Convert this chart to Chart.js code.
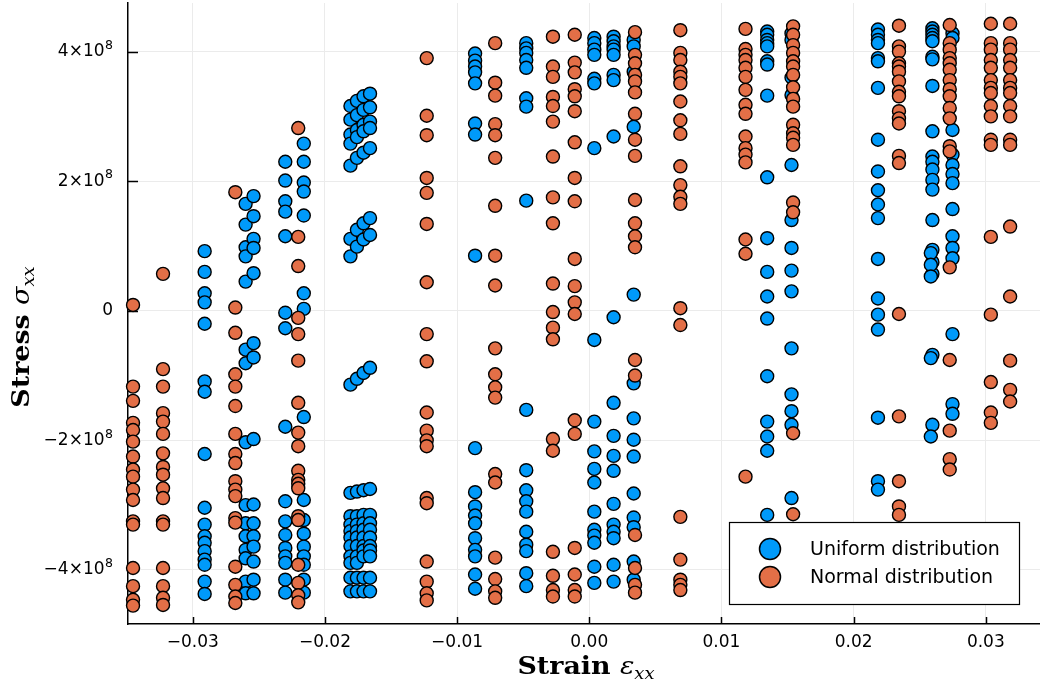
<!DOCTYPE html>
<html>
<head>
<meta charset="utf-8">
<script src="https://cdn.jsdelivr.net/npm/chart.js@4.4.0/dist/chart.umd.min.js"></script>
<style>
  html, body { margin: 0; padding: 0; background: #fff; }
  #wrap { width: 1040px; height: 689px; position: relative; }
</style>
</head>
<body>
<div id="wrap"><canvas id="chart"></canvas></div>
<script>
// ── Data (stress values in units of 1e8) ───────────────────

const STRESS_UNIT = 1e8;

const X_TICKS = [-0.03, -0.02, -0.01, 0, 0.01, 0.02, 0.03];
const Y_TICKS = [-4e8, -2e8, 0, 2e8, 4e8];

const SERIES_LABELS = ['Uniform distribution', 'Normal distribution'];

// Uniform distribution: one strain value per column, list of stresses per column
const uniformStrain = [
  -0.0291, -0.0260, -0.0254, -0.0230, -0.0216,
  -0.01807, -0.01758, -0.01708, -0.01659,
  -0.00864, -0.00477, 0.00038, 0.00184, 0.00336,
  0.01346, 0.0153, 0.02184, 0.02596, 0.02584, 0.02748,
];
const uniformStress = [
  [0.92, 0.60, 0.27, 0.13, -0.20, -1.09, -1.25, -2.21, -3.04, -3.30, -3.48, -3.58, -3.71, -3.84, -3.92, -4.18, -4.37],
  [1.65, 1.33, 0.98, 0.84, 0.45, -0.60, -0.81, -2.03, -3.00, -3.28, -3.48, -3.69, -3.82, -4.18, -4.36],
  [1.77, 1.46, 1.11, 0.97, 0.58, -0.50, -0.72, -1.98, -2.99, -3.28, -3.48, -3.64, -3.87, -4.15, -4.36],
  [2.30, 2.01, 1.69, 1.53, 1.15, -0.03, -0.27, -1.79, -2.94, -3.25, -3.46, -3.66, -3.79, -3.89, -4.15, -4.35],
  [2.58, 2.30, 1.98, 1.84, 1.47, 0.27, 0.03, -1.64, -2.92, -3.23, -3.44, -3.64, -3.79, -3.92, -4.15, -4.35],
  [3.16, 2.95, 2.72, 2.58, 2.24, 1.11, 0.84, -1.14, -2.81, -3.17, -3.30, -3.40, -3.50, -3.63, -3.79, -3.89, -4.12, -4.33],
  [3.24, 3.02, 2.79, 2.68, 2.36, 1.25, 0.99, -1.05, -2.79, -3.17, -3.30, -3.40, -3.50, -3.63, -3.79, -3.89, -4.12, -4.33],
  [3.31, 3.10, 2.87, 2.77, 2.44, 1.35, 1.10, -0.96, -2.77, -3.15, -3.28, -3.38, -3.50, -3.63, -3.70, -3.79, -4.12, -4.33],
  [3.35, 3.14, 2.92, 2.82, 2.51, 1.43, 1.17, -0.88, -2.75, -3.15, -3.28, -3.38, -3.50, -3.63, -3.70, -3.79, -4.12, -4.33],
  [3.97, 3.86, 3.77, 3.68, 3.51, 2.89, 2.72, 0.85, -2.12, -2.80, -3.02, -3.16, -3.28, -3.51, -3.69, -3.79, -4.07, -4.29],
  [4.13, 4.05, 3.98, 3.87, 3.75, 3.28, 3.15, 1.70, -1.53, -2.46, -2.77, -2.94, -3.10, -3.41, -3.61, -3.71, -4.05, -4.25],
  [4.21, 4.13, 4.03, 3.95, 3.58, 3.51, 2.51, -0.45, -1.71, -2.17, -2.44, -2.65, -3.10, -3.38, -3.47, -3.58, -3.95, -4.20],
  [4.23, 4.16, 4.08, 4.03, 3.95, 3.64, 3.56, 2.69, -0.10, -1.42, -1.93, -2.24, -2.47, -2.98, -3.30, -3.41, -3.51, -3.92, -4.18],
  [4.18, 4.08, 3.69, 2.84, 0.25, -1.12, -1.66, -1.99, -2.25, -2.82, -3.19, -3.34, -3.87, -4.15],
  [4.31, 4.26, 4.18, 4.13, 4.08, 3.85, 3.80, 3.32, 2.06, 1.12, 0.60, 0.22, -0.12, -1.01, -1.71, -1.94, -2.16, -3.15],
  [4.28, 4.18, 3.60, 3.33, 2.25, 1.40, 0.97, 0.62, 0.30, -0.58, -1.29, -1.55, -1.76, -2.89],
  [4.34, 4.26, 4.18, 4.13, 3.90, 3.85, 3.44, 2.64, 2.15, 1.86, 1.64, 1.43, 0.80, 0.19, -0.06, -0.29, -1.65, -2.63, -2.76],
  [4.36, 4.31, 4.26, 4.21, 4.16, 3.92, 3.88, 3.47, 2.77, 2.38, 2.30, 2.18, 2.02, 1.87, 1.40, 0.94, 0.75, 0.57, -0.68, -1.76],
  [0.89, 0.71, 0.53, -0.73, -1.94],
  [4.28, 4.21, 2.79, 2.41, 2.25, 2.11, 1.97, 1.57, 1.15, 0.97, 0.81, -0.36, -1.44, -1.59],
];

// Normal distribution
const normalStrain = [
  -0.03452, -0.03225, -0.02678, -0.02202, -0.0123, -0.00712,
  -0.00275, -0.0011, 0.00346, 0.00689, 0.01182, 0.01542,
  0.02343, 0.02727, 0.03038, 0.03184,
];
const normalStress = [
  [0.09, -1.17, -1.39, -1.73, -1.84, -2.02, -2.25, -2.45, -2.56, -2.76, -2.92, -3.25, -3.30, -3.97, -4.25, -4.46, -4.55],
  [0.57, -0.90, -1.17, -1.58, -1.71, -1.90, -2.20, -2.41, -2.53, -2.74, -2.89, -3.25, -3.30, -3.97, -4.25, -4.43, -4.54],
  [1.83, 0.05, -0.34, -0.98, -1.17, -1.47, -1.90, -2.21, -2.35, -2.63, -2.76, -2.86, -3.20, -3.27, -3.95, -4.23, -4.41, -4.51],
  [2.82, 1.14, 0.69, -0.11, -0.36, -0.77, -1.42, -1.88, -2.09, -2.47, -2.61, -2.67, -2.74, -3.17, -3.23, -3.92, -4.20, -4.39, -4.50],
  [3.90, 3.01, 2.71, 2.05, 1.82, 1.34, 0.44, -0.36, -0.78, -1.57, -1.85, -2.00, -2.09, -2.89, -2.97, -3.87, -4.18, -4.36, -4.47],
  [4.13, 3.52, 3.32, 2.88, 2.71, 2.36, 1.62, 0.85, 0.39, -0.58, -0.98, -1.18, -1.34, -2.52, -2.65, -3.81, -4.14, -4.33, -4.43],
  [4.23, 3.77, 3.61, 3.30, 3.16, 2.92, 2.38, 1.75, 1.35, 0.42, -0.02, -0.26, -0.44, -1.98, -2.16, -3.72, -4.09, -4.31, -4.41],
  [4.26, 3.83, 3.68, 3.42, 3.31, 3.08, 2.60, 2.05, 1.69, 0.80, 0.38, 0.13, -0.05, -1.69, -1.90, -3.66, -4.07, -4.31, -4.41],
  [4.30, 3.95, 3.82, 3.64, 3.54, 3.37, 3.04, 2.64, 2.39, 1.71, 1.35, 1.15, 0.98, -0.76, -1.00, -3.46, -3.97, -4.23, -4.35],
  [4.33, 3.98, 3.87, 3.69, 3.61, 3.51, 3.23, 2.94, 2.73, 2.23, 1.94, 1.76, 1.65, 0.04, -0.22, -3.18, -3.84, -4.15, -4.23, -4.31],
  [4.35, 4.04, 3.95, 3.87, 3.75, 3.61, 3.41, 3.18, 3.04, 2.69, 2.51, 2.41, 2.29, 1.10, 0.88, -2.56],
  [4.39, 4.26, 4.10, 3.98, 3.85, 3.77, 3.64, 3.45, 3.27, 3.15, 2.87, 2.74, 2.67, 2.56, 1.67, 1.52, -1.89, -3.14],
  [4.40, 4.08, 4.00, 3.82, 3.77, 3.69, 3.54, 3.38, 3.31, 3.08, 2.97, 2.89, 2.39, 2.28, -0.05, -1.63, -2.63, -3.02, -3.15],
  [4.41, 4.13, 4.03, 3.90, 3.82, 3.72, 3.56, 3.42, 3.31, 3.13, 2.97, 2.54, 2.46, 0.67, -0.76, -1.85, -2.29, -2.45],
  [4.43, 4.13, 4.03, 3.87, 3.75, 3.56, 3.44, 3.36, 3.16, 3.00, 2.64, 2.56, 1.14, -0.06, -1.10, -1.57, -1.73],
  [4.43, 4.13, 4.03, 3.87, 3.75, 3.56, 3.44, 3.36, 3.16, 3.00, 2.64, 2.56, 1.30, 0.22, -0.77, -1.22, -1.40],
];

// ── Styling ────────────────────────────────────────────────

const COLORS = { uniform: '#009AFA', normal: '#E36F47', grid: '#ebebeb', axis: '#000000' };
const SANS = "'DejaVu Sans', sans-serif";
const SERIF = "'DejaVu Serif', serif";

function toPoints(strains, stresses) {
  const pts = [];
  strains.forEach((sx, i) => {
    stresses[i].forEach(s => pts.push({ x: sx, y: s * STRESS_UNIT }));
  });
  return pts;
}

const minus = v => (v < 0 ? '\u2212' : '');

// ── Plugins: inner ticks + y labels, axis titles, legend ───

const innerTicks = {
  id: 'innerTicks',
  beforeDatasetsDraw(chart) {
    const { ctx, chartArea: a, scales: { x, y } } = chart;
    ctx.save();
    ctx.strokeStyle = COLORS.axis;
    ctx.lineWidth = 1.5;
    ctx.beginPath();
    X_TICKS.forEach(v => {
      const px = Math.round(x.getPixelForValue(v)) + 0.5;
      ctx.moveTo(px, a.bottom);
      ctx.lineTo(px, a.bottom - 7);
    });
    Y_TICKS.forEach(v => {
      const py = Math.round(y.getPixelForValue(v)) + 0.5;
      ctx.moveTo(a.left, py);
      ctx.lineTo(a.left + 10, py);
    });
    ctx.stroke();

    // y tick labels with a real superscript exponent
    ctx.fillStyle = '#000';
    ctx.textBaseline = 'middle';
    ctx.textAlign = 'right';
    Y_TICKS.forEach(v => {
      const py = y.getPixelForValue(v);
      const xr = a.left - 15;
      if (v === 0) {
        ctx.font = `17px ${SANS}`;
        ctx.fillText('0', xr, py);
        return;
      }
      ctx.font = `12.5px ${SANS}`;
      const wExp = ctx.measureText('8').width;
      ctx.fillText('8', xr, py - 6);
      ctx.font = `17px ${SANS}`;
      ctx.fillText(minus(v) + Math.abs(v / STRESS_UNIT) + '\u00d710', xr - wExp - 0.5, py);
    });
    ctx.restore();
  },
};

function drawMathLabel(ctx, word, symbol, sub) {
  // draws centred on the current origin, slightly widened like CM bold
  const fWord = `bold 24px ${SERIF}`;
  const fSym = `italic 24px ${SERIF}`;
  const fSub = `italic 16px ${SERIF}`;
  ctx.scale(1.12, 1);
  ctx.font = fWord; const w1 = ctx.measureText(word + ' ').width;
  ctx.font = fSym;  const w2 = ctx.measureText(symbol).width;
  ctx.font = fSub;  const w3 = ctx.measureText(sub).width;
  let xx = -(w1 + w2 + w3) / 2;
  ctx.textBaseline = 'alphabetic';
  ctx.textAlign = 'left';
  ctx.font = fWord; ctx.fillText(word + ' ', xx, 8); xx += w1;
  ctx.font = fSym;  ctx.fillText(symbol, xx, 8); xx += w2;
  ctx.font = fSub;  ctx.fillText(sub, xx, 13);
}

const axisTitles = {
  id: 'axisTitles',
  afterDraw(chart) {
    const { ctx } = chart;
    ctx.save();
    ctx.fillStyle = '#000';
    ctx.translate(586, 666);
    drawMathLabel(ctx, 'Strain', '\u03b5', 'xx');
    ctx.restore();

    ctx.save();
    ctx.fillStyle = '#000';
    ctx.translate(21, 337);
    ctx.rotate(-Math.PI / 2);
    drawMathLabel(ctx, 'Stress', '\u03c3', 'xx');
    ctx.restore();
  },
};

const boxLegend = {
  id: 'boxLegend',
  afterDraw(chart) {
    const { ctx, chartArea: a } = chart;
    const w = 290, h = 82;
    const x0 = a.right - 21 - w, y0 = a.bottom - 20 - h;
    ctx.save();
    ctx.fillStyle = '#fff';
    ctx.strokeStyle = '#000';
    ctx.lineWidth = 1.2;
    ctx.fillRect(x0, y0, w, h);
    ctx.strokeRect(x0 + 0.5, y0 + 0.5, w, h);
    ctx.font = `19px ${SANS}`;
    ctx.textBaseline = 'middle';
    ctx.textAlign = 'left';
    chart.data.datasets.forEach((ds, i) => {
      const cy = y0 + 27 + i * 28;
      ctx.beginPath();
      ctx.arc(x0 + 41, cy, 10.5, 0, Math.PI * 2);
      ctx.fillStyle = ds.backgroundColor;
      ctx.fill();
      ctx.lineWidth = 1.5;
      ctx.stroke();
      ctx.fillStyle = '#000';
      ctx.fillText(ds.label, x0 + 81, cy + 1);
    });
    ctx.restore();
  },
};

// ── Chart ──────────────────────────────────────────────────

const pointStyle = {
  pointRadius: 6.5,
  pointHoverRadius: 6.5,
  borderWidth: 1.4,
  borderColor: '#000',
  clip: false,
};

new Chart(document.getElementById('chart'), {
  type: 'scatter',
  data: {
    datasets: [
      { label: SERIES_LABELS[0], data: toPoints(uniformStrain, uniformStress),
        backgroundColor: COLORS.uniform, order: 1, ...pointStyle },
      { label: SERIES_LABELS[1], data: toPoints(normalStrain, normalStress),
        backgroundColor: COLORS.normal, order: 0, ...pointStyle },
    ],
  },
  options: {
    responsive: true,
    maintainAspectRatio: false,
    animation: false,
    layout: { autoPadding: false, padding: { top: 3, right: 0, left: 0, bottom: 0 } },
    plugins: { legend: { display: false }, tooltip: { enabled: false } },
    scales: {
      x: {
        type: 'linear',
        min: -0.0349,
        max: 0.0341,
        afterFit: s => { s.height = 65; s.paddingLeft = 0; s.paddingRight = 0; },
        afterBuildTicks: s => { s.ticks = X_TICKS.map(v => ({ value: v })); },
        grid: { color: COLORS.grid, drawTicks: false },
        border: { display: true, color: COLORS.axis, width: 1.5 },
        ticks: {
          color: '#000', font: { family: SANS, size: 17 }, padding: 8, maxRotation: 0,
          callback: v => minus(v) + Math.abs(v).toFixed(2),
        },
      },
      y: {
        type: 'linear',
        min: -4.834e8,
        max: 4.75e8,
        afterFit: s => { s.width = 128; s.paddingTop = 0; s.paddingBottom = 0; },
        afterBuildTicks: s => { s.ticks = Y_TICKS.map(v => ({ value: v })); },
        grid: { color: COLORS.grid, drawTicks: false },
        border: { display: true, color: COLORS.axis, width: 1.5 },
        ticks: { display: false },
      },
    },
  },
  plugins: [innerTicks, axisTitles, boxLegend],
});
</script>
</body>
</html>
